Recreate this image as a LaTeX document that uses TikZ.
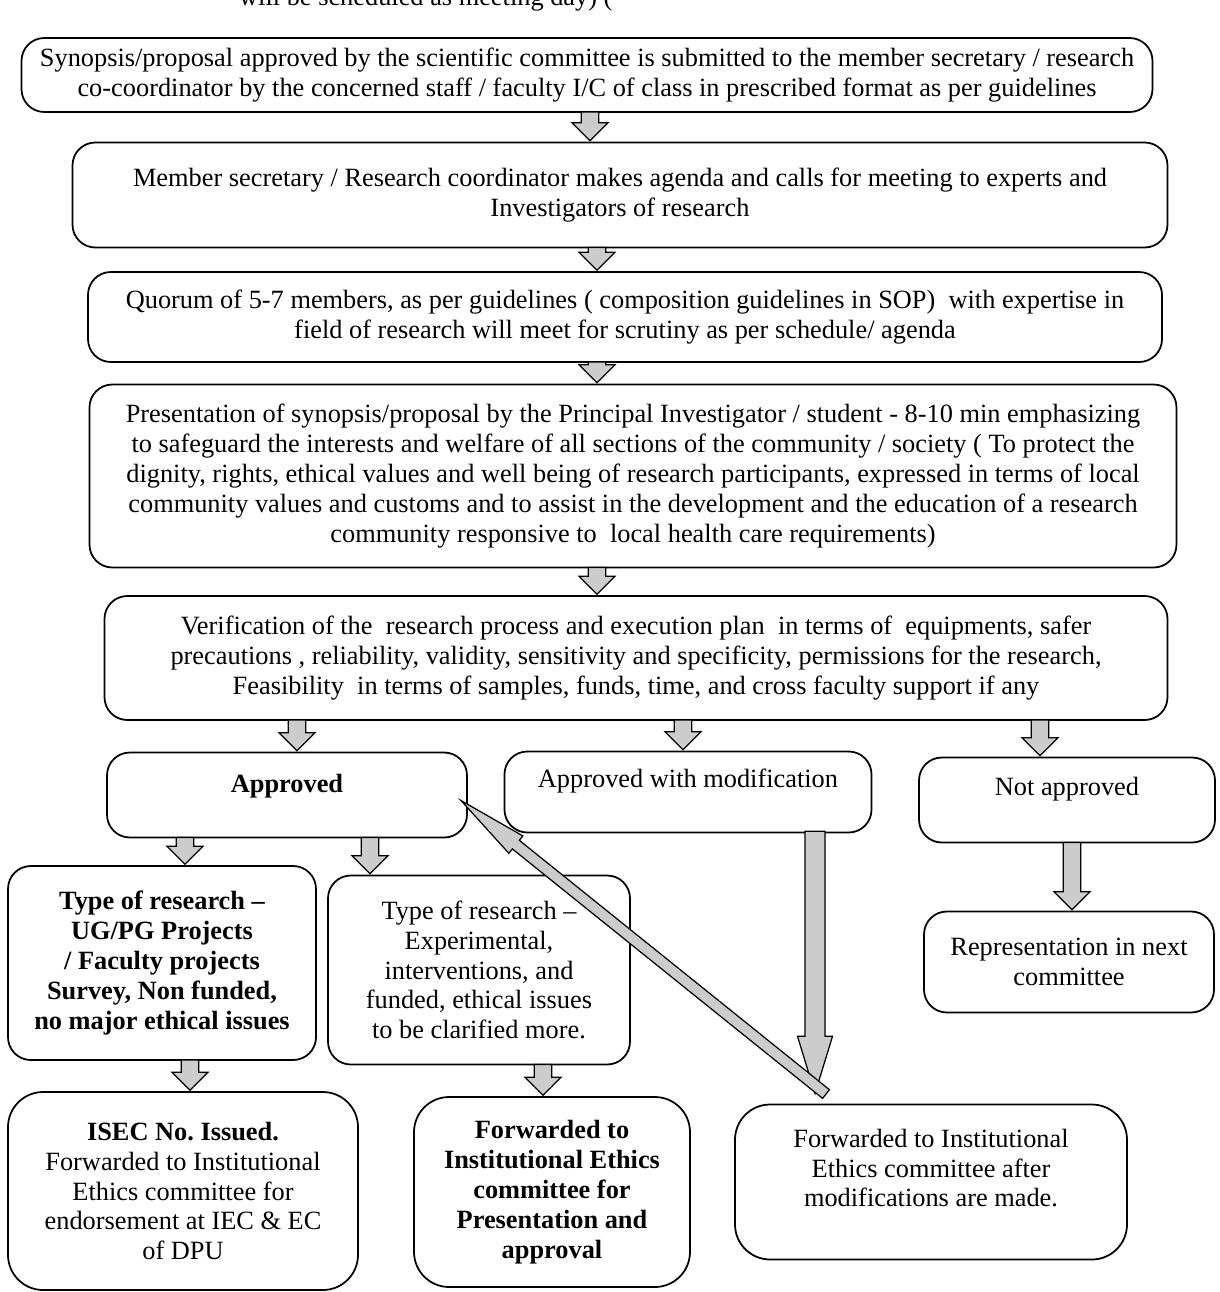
\documentclass[tikz,border=0pt]{standalone}
\usepackage{fontspec}
\setmainfont{Liberation Serif}
\usetikzlibrary{calc, shapes.arrows}

\newcommand{\pxu}{0.02cm}
\newcommand{\fatarrow}[3][]{%
  \path (#2) coordinate (fastart) (#3) coordinate (faend);
  \pgfpointdiff{\pgfpointanchor{fastart}{center}}{\pgfpointanchor{faend}{center}}%
  \pgfgetlastxy{\fadx}{\fady}%
  \pgfmathsetmacro{\falen}{veclen(\fadx,\fady)}%
  \pgfmathsetmacro{\faang}{atan2(\fady,\fadx)}%
  \node[fatarr, #1, minimum height=\falen pt, rotate=\faang, anchor=tip] at (faend) {};%
}

\tikzset{
  box/.style 2 args={draw, line width=1pt, rounded corners=13pt, align=center,
    inner sep=3pt, minimum width=#1*\pxu, minimum height=#2*\pxu,
    font=\fontsize{15}{17}\selectfont},
  fatarr/.style={single arrow, draw, fill=gray!40, line width=0.7pt, inner xsep=0pt,
    inner ysep=4.6pt, minimum width=0pt, single arrow head extend=5.3pt,
    single arrow head indent=0pt},
  longarr/.style={inner ysep=5.4pt, single arrow head extend=4.2pt, single arrow tip angle=34},
  thinarr/.style={inner ysep=2.8pt, single arrow head extend=3.2pt, single arrow tip angle=18}
}

\begin{document}
\begin{tikzpicture}[x=0.02cm, y=-0.02cm]
        \useasboundingbox (0,0) rectangle (1220,1292);
        \clip (0,0) rectangle (1220,1292);

        \node[anchor=base west, font=\fontsize{15}{17}\selectfont] (cut) at (233,5) {will be scheduled as meeting day) (};

        \node[box={1131}{74}] (submit) at (587,75) {Synopsis/proposal approved by the scientific committee is submitted to the member secretary / research\\co-coordinator by the concerned staff / faculty I/C of class in prescribed format as per guidelines};
        \node[box={1095}{105}] (agenda) at (620,195) {Member secretary / Research coordinator makes agenda and calls for meeting to experts and\\Investigators of research};
        \node[box={1074}{90}] (quorum) at (625,317) {Quorum of 5-7 members, as per guidelines ( composition guidelines in SOP)\ \ with expertise in\\field of research will meet for scrutiny as per schedule/ agenda};
        \node[box={1087}{183}] (present) at (633,476) {Presentation of synopsis/proposal by the Principal Investigator / student - 8-10 min emphasizing\\to safeguard the interests and welfare of all sections of the community / society ( To protect the\\dignity, rights, ethical values and well being of research participants, expressed in terms of local\\community values and customs and to assist in the development and the education of a research\\community responsive to\ \ local health care requirements)};
        \node[box={1063}{124}] (verify) at (636,658) {Verification of the\ \ research process and execution plan\ \ in terms of\ \ equipments, safer\\precautions , reliability, validity, sensitivity and specificity, permissions for the research,\\Feasibility\ \ in terms of samples, funds, time, and cross faculty support if any};

        \node[box={360}{85}, font=\fontsize{15}{17}\selectfont\bfseries] (ok) at (287,795) {Approved\\[-4pt]};
        \node[box={367}{81}] (modif) at (688,792) {Approved with modification\\[-1pt]};
        \node[box={296}{85}] (notok) at (1067,800) {Not approved\\[-1pt]};

        \node[box={308}{194}, font=\fontsize{15}{17}\selectfont\bfseries] (typeA) at (162,963) {Type of research --\\UG/PG Projects\\/ Faculty projects\\Survey, Non funded,\\no major ethical issues};
        \node[box={302}{189}] (typeB) at (479,970) {Type of research --\\Experimental,\\interventions, and\\funded, ethical issues\\to be clarified more.};
        \node[box={290}{101}] (repr) at (1069,962) {Representation in next\\committee};

        \node[box={350}{198}, rounded corners=20pt] (isec) at (183,1191) {\textbf{ISEC No.\ Issued.}\\Forwarded to Institutional\\Ethics committee for\\endorsement at IEC \& EC\\of DPU};
        \node[box={276}{190}, rounded corners=20pt, font=\fontsize{15}{17}\selectfont\bfseries] (fwdiec) at (552,1192) {Forwarded to\\Institutional Ethics\\committee for\\Presentation and\\approval};
        \node[box={392}{155}, rounded corners=20pt] (fwdmod) at (931,1182) {Forwarded to Institutional\\Ethics committee after\\modifications are made.\\[-1pt]};

        \coordinate (modout) at ($(modif.south)+(127,0)$);
        \coordinate (modend) at (fwdmod.north -| modout);

        \fatarrow{submit.south -| 590,0}{agenda.north -| 590,0}
        \fatarrow{agenda.south -| 597,0}{quorum.north -| 597,0}
        \fatarrow{quorum.south -| 597,0}{present.north -| 597,0}
        \fatarrow{present.south -| 597,0}{verify.north -| 597,0}
        \fatarrow{verify.south -| 297,0}{ok.north -| 297,0}
        \fatarrow{verify.south -| 683,0}{modif.north -| 683,0}
        \fatarrow{verify.south -| 1040,0}{notok.north -| 1040,0}
        \fatarrow{$(ok.south)+(-102,0)$}{typeA.north -| 185,0}
        \fatarrow{$(ok.south)+(83,0)$}{typeB.north -| 370,0}
        \fatarrow{notok.south -| 1072,0}{repr.north -| 1072,0}
        \fatarrow{typeA.south -| 190,0}{isec.north -| 190,0}
        \fatarrow{typeB.south -| 543,0}{fwdiec.north -| 543,0}
        \fatarrow[longarr]{modout}{$(modend)+(0,-8)$}
        \fatarrow[thinarr]{$(modend)+(8,-12)$}{$(ok.east)+(-10,3)$}
    \end{tikzpicture}
\end{document}
